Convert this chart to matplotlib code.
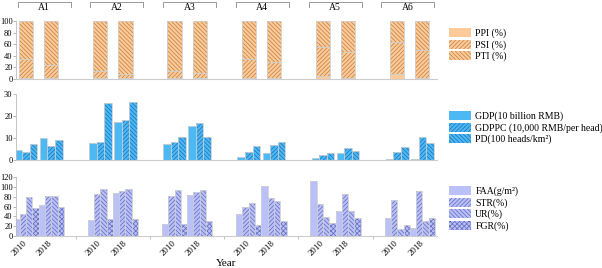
import numpy as np
import matplotlib
matplotlib.use('Agg')
import matplotlib.pyplot as plt
from matplotlib.patches import Patch
from matplotlib.transforms import blended_transform_factory, ScaledTranslation

# Data
groups = ['A1', 'A2', 'A3', 'A4', 'A5', 'A6']
years = ['2010', '2018']

# structure indices (%), stacked: PPI / PSI / PTI
ppi_2010 = [1, 1, 1, 1, 6, 9]
psi_2010 = [34, 13, 13, 33, 50, 54]
pti_2010 = [65, 86, 86, 66, 44, 37]
ppi_2018 = [1, 1, 1, 1, 2, 2]
psi_2018 = [23, 8, 9, 28, 45, 48]
pti_2018 = [76, 91, 90, 71, 53, 50]

# economy
gdp_2010 = [4.5, 7.6, 7.3, 1.5, 0.9, 0.3]
gdppc_2010 = [3.5, 8.0, 8.0, 3.6, 2.1, 3.6]
pd_2010 = [7.3, 25.8, 10.3, 6.4, 3.2, 6.1]
gdp_2018 = [10.1, 17.1, 15.6, 3.2, 3.0, 0.3]
gdppc_2018 = [6.5, 18.2, 16.7, 6.8, 5.5, 10.3]
pd_2018 = [9.1, 26.5, 10.6, 8.0, 4.1, 7.6]

# land / agriculture
faa_2010 = [35, 32, 25, 44, 112, 37]
str_2010 = [45, 85, 81, 60, 66, 74]
ur_2010 = [79, 95, 93, 68, 39, 15]
fgr_2010 = [56, 35, 25, 23, 27, 22]
faa_2018 = [64, 87, 83, 101, 50, 17]
str_2018 = [82, 92, 89, 78, 85, 91]
ur_2018 = [82, 95, 93, 71, 51, 30]
fgr_2018 = [60, 35, 30, 30, 37, 37]

plt.rcParams['font.family'] = ['Liberation Serif', 'DejaVu Serif']
plt.rcParams['hatch.linewidth'] = 0.55

ORANGE, ORANGE_H = '#FDCA98', '#C08448'
BLUE, BLUE_H = '#4CB8F4', '#1E74BA'
LAV, LAV_H = '#BAC0F8', '#6670C4'
EDGE = '#D0D0D0'
H1, H2, H3 = '////////', '\\\\\\\\\\\\\\\\', 'xxxxxxx'

fig = plt.figure(figsize=(6.02, 2.68), dpi=100)
W, H = 602, 268


def px_axes(x0, y0, x1, y1):
    return fig.add_axes([x0 / W, 1 - y1 / H, (x1 - x0) / W, (y1 - y0) / H])


ax_top = px_axes(16, 21, 437, 79)
ax_mid = px_axes(16, 94, 437, 160)
ax_bot = px_axes(16, 177, 437, 236)

gpos = np.arange(len(groups)) * 2.95
pos = {'2010': gpos, '2018': gpos + 1}


def bar(ax, x, h, w, color, hcolor, hatch, bottom=None):
    ax.bar(x, h, w, bottom=bottom, color=color, edgecolor=hcolor, hatch=hatch, linewidth=0)
    ax.bar(x, h, w, bottom=bottom, fill=False, edgecolor=EDGE, linewidth=0.6)


# top panel: stacked shares
for yr, ppi, psi, pti in [('2010', ppi_2010, psi_2010, pti_2010),
                          ('2018', ppi_2018, psi_2018, pti_2018)]:
    ppi, psi, pti = np.array(ppi), np.array(psi), np.array(pti)
    bar(ax_top, pos[yr], ppi, 0.56, ORANGE, ORANGE_H, None)
    bar(ax_top, pos[yr], psi, 0.56, ORANGE, ORANGE_H, H1, bottom=ppi)
    bar(ax_top, pos[yr], pti, 0.56, ORANGE, ORANGE_H, H2, bottom=ppi + psi)

# middle panel
w = 0.3
for yr, series in [('2010', [gdp_2010, gdppc_2010, pd_2010]),
                   ('2018', [gdp_2018, gdppc_2018, pd_2018])]:
    for k, (vals, hatch) in enumerate(zip(series, [None, H1, H2])):
        bar(ax_mid, pos[yr] + (k - 1) * w, vals, w, BLUE, BLUE_H, hatch)

# bottom panel
w = 0.25
for yr, series in [('2010', [faa_2010, str_2010, ur_2010, fgr_2010]),
                   ('2018', [faa_2018, str_2018, ur_2018, fgr_2018])]:
    for k, (vals, hatch) in enumerate(zip(series, [None, H1, H2, H3])):
        bar(ax_bot, pos[yr] + (k - 1.5) * w, vals, w, LAV, LAV_H, hatch)

# axes styling
for ax, top, step in [(ax_top, 100, 20), (ax_mid, 30, 10), (ax_bot, 120, 20)]:
    ax.set_xlim(-0.4, 16.33)
    ax.set_ylim(0, top)
    ax.set_yticks(np.arange(0, top + 1, step))
    for s in ['top', 'right']:
        ax.spines[s].set_visible(False)
    ax.spines['left'].set_color('#BBBBBB')
    ax.spines['bottom'].set_color('#CCCCCC')
    ax.spines['left'].set_linewidth(0.6)
    ax.spines['bottom'].set_linewidth(0.8)
    ax.tick_params(axis='y', labelsize=6, length=2, width=0.5, color='#999999', pad=0.5)
    ax.set_xticks([])

xt = np.sort(np.concatenate([pos['2010'], pos['2018']]))
ax_bot.set_xticks(xt)
ax_bot.set_xticklabels([years[i % 2] for i in range(len(xt))], rotation=45,
                       ha='right', rotation_mode='anchor', va='center', fontsize=6.5)
shift = ScaledTranslation(5 / 100, 0, fig.dpi_scale_trans)
for lbl in ax_bot.get_xticklabels():
    lbl.set_transform(lbl.get_transform() + shift)
ax_bot.set_xticks(gpos[1:] - 0.975, minor=True)
ax_bot.tick_params(axis='x', which='major', length=0, pad=4)
ax_bot.tick_params(axis='x', which='minor', length=2.5, width=0.5, color='#AAAAAA')
ax_bot.set_xlabel('Year', fontsize=8)
ax_bot.xaxis.set_label_coords(0.5, -0.47)
ax_bot.xaxis.label.set_va('center')

# group brackets on top
tr = blended_transform_factory(ax_top.transData, fig.transFigure)
for i, g in enumerate(groups):
    c = 0.72 + 2.89 * i
    x0, x1 = c - 1.05, c + 1.05
    yl, yt = 1 - 2 / H, 1 - 7 / H
    ax_top.plot([x0, x0, x1, x1], [yt, yl, yl, yt], color='#999999', lw=0.7,
                transform=tr, clip_on=False)
    ax_top.text(c, 1 - 8 / H, g, transform=tr, ha='center', va='center', fontsize=7)


# legends
def legend(handles, y):
    fig.legend(handles=handles, loc='upper left', bbox_to_anchor=(449 / W, 1 - y / H),
               frameon=False, fontsize=7, handlelength=2.3, handleheight=1.05,
               labelspacing=0.15, handletextpad=0.4, borderpad=0, borderaxespad=0)


def patch(color, hcolor, hatch, label):
    return Patch(facecolor=color, edgecolor=hcolor, lw=0, hatch=hatch, label=label)


legend([patch(ORANGE, ORANGE_H, None, 'PPI (%)'),
        patch(ORANGE, ORANGE_H, H1, 'PSI (%)'),
        patch(ORANGE, ORANGE_H, H2, 'PTI (%)')], 28)
legend([patch(BLUE, BLUE_H, None, 'GDP(10 billion RMB)'),
        patch(BLUE, BLUE_H, H1, 'GDPPC (10,000 RMB/per head)'),
        patch(BLUE, BLUE_H, H2, 'PD(100 heads/km²)')], 111)
legend([patch(LAV, LAV_H, None, 'FAA(g/m²)'),
        patch(LAV, LAV_H, H1, 'STR(%)'),
        patch(LAV, LAV_H, H2, 'UR(%)'),
        patch(LAV, LAV_H, H3, 'FGR(%)')], 186)

fig.savefig('out.png', dpi=100)
